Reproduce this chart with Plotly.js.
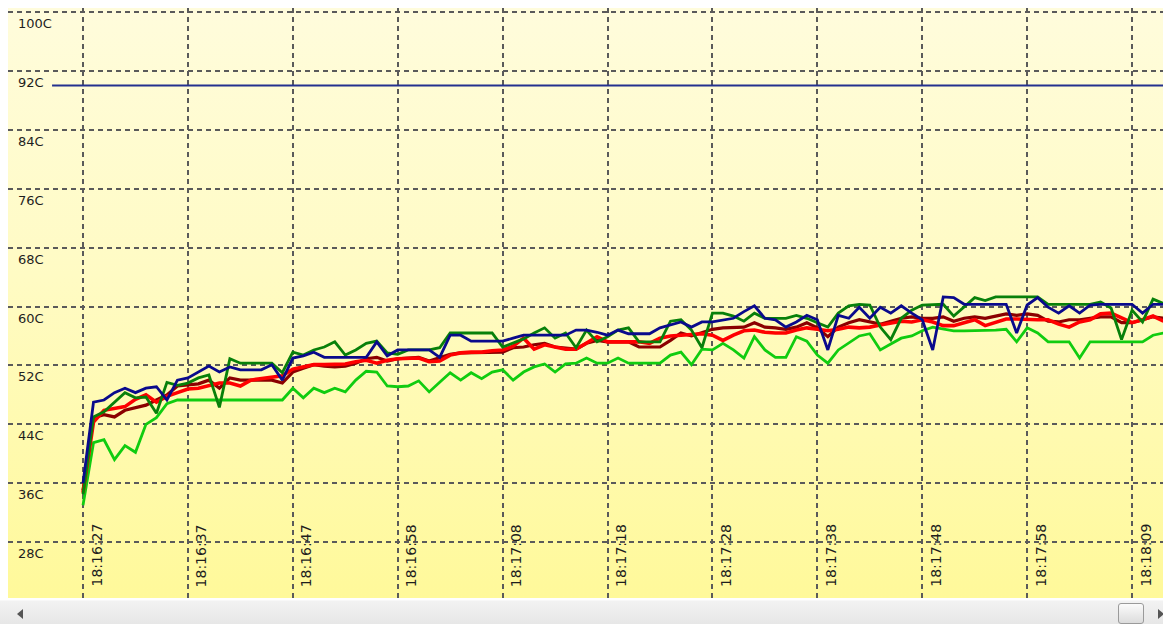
<!DOCTYPE html>
<html>
<head>
<meta charset="utf-8">
<script src="https://cdn.plot.ly/plotly-3.0.1.min.js"></script>
<style>
  html, body { margin: 0; padding: 0; background: #ffffff; width: 1163px; height: 624px; overflow: hidden; }
  #bg { position: absolute; left: 8px; top: 8px; width: 1155px; height: 590px;
        background: linear-gradient(to bottom, #fffcdc 0%, #fffbc4 45%, #fff99a 100%); }
  #chart { position: absolute; left: 0; top: 0; width: 1163px; height: 624px; }
  #scroll { position: absolute; left: 0; top: 600px; width: 1163px; height: 24px;
            background: linear-gradient(to bottom, #f2f2f2, #e6e6e6); border-top: 1px solid #f8f8f8; }
  #larrow { position: absolute; left: 17px; top: 8px; width: 0; height: 0;
            border-top: 5px solid transparent; border-bottom: 5px solid transparent; border-right: 6px solid #555; }
  #rarrow { position: absolute; left: 1158px; top: 8px; width: 0; height: 0;
            border-top: 5px solid transparent; border-bottom: 5px solid transparent; border-left: 6px solid #555; }
  #thumb { position: absolute; left: 1118px; top: 2px; width: 24px; height: 19px; border: 1px solid #9a9a9a;
           border-radius: 3px; background: linear-gradient(to bottom, #fbfbfb, #dcdcdc); }
</style>
</head>
<body>
<div id="bg"></div>
<div id="chart"></div>
<div id="scroll"><div id="larrow"></div><div id="thumb"></div><div id="rarrow"></div></div>
<script>
// ---- data ----
const tickIdx  = [0, 10, 20, 30, 40, 50, 60, 70, 80, 90, 100];
const tickText = ['18:16:27','18:16:37','18:16:47','18:16:58','18:17:08','18:17:18','18:17:28','18:17:38','18:17:48','18:17:58','18:18:09'];
const yTicks   = [100, 92, 84, 76, 68, 60, 52, 44, 36, 28];
const yText    = ['100C','92C','84C','76C','68C','60C','52C','44C','36C','28C'];
const threshold = 90;

const navySeries = [36.0,47.0,47.3,48.3,48.9,48.3,48.9,49.1,47.3,50.0,
  50.3,51.1,51.9,51.1,51.8,51.4,51.4,51.4,52.1,50.0,
  53.0,53.3,53.8,53.1,53.1,53.1,53.1,53.1,55.2,53.3,
  54.1,54.1,54.1,54.1,53.1,56.1,56.1,55.3,55.3,55.3,
  55.3,55.7,56.1,56.1,56.1,56.1,56.1,56.8,56.8,56.5,
  56.1,56.8,56.3,56.3,56.3,57.1,57.5,57.9,57.2,57.9,
  57.9,58.2,58.4,59.3,60.1,58.4,58.2,57.2,57.9,58.8,
  58.2,54.1,58.8,58.4,59.9,58.4,59.9,59.1,60.1,59.1,
  58.2,54.1,61.3,61.2,60.3,60.3,60.3,60.3,60.3,56.4,
  60.2,61.2,59.9,59.1,60.1,59.1,60.2,60.3,60.3,60.3,
  60.3,59.1,60.3,60.3];
const darkGreenSeries = [34.5,45.0,45.7,47.0,48.3,47.6,47.7,45.5,49.7,49.3,
  49.6,50.3,50.7,46.3,52.9,52.3,52.3,52.3,52.3,51.0,
  53.8,53.4,54.1,54.5,55.2,53.4,54.1,55.0,55.3,53.7,
  53.5,54.1,54.1,54.1,54.4,56.4,56.4,56.4,56.4,56.4,
  54.5,55.0,55.6,56.4,57.1,55.7,56.4,54.4,56.8,55.2,
  55.9,56.8,57.1,55.2,55.2,55.2,58.0,58.2,56.8,54.4,
  59.1,59.1,58.7,58.0,59.1,58.4,58.4,58.4,58.8,58.4,
  57.8,57.2,59.1,60.1,60.3,60.2,57.2,55.5,58.4,59.5,
  60.2,60.3,60.3,58.7,59.9,61.2,60.8,61.3,61.3,61.3,
  61.3,61.3,60.3,60.3,60.3,60.3,60.3,60.6,59.8,55.5,
  59.5,57.9,61.0,60.4];
const redSeries = [34.7,44.3,45.9,46.2,46.4,47.4,48.0,47.0,47.8,48.3,
  48.8,48.9,49.3,49.6,49.6,49.2,50.0,50.2,50.3,50.6,
  51.5,51.8,52.1,52.1,52.1,52.2,52.5,52.7,52.3,52.7,
  52.9,53.0,53.0,52.5,52.6,53.4,53.7,53.8,53.8,54.0,
  54.1,54.6,55.7,54.2,54.8,54.5,54.2,54.2,55.0,55.9,
  55.2,55.2,55.3,55.2,55.0,55.7,56.0,56.1,56.3,56.3,
  56.1,55.4,56.1,56.7,56.8,56.5,56.4,56.4,56.8,57.1,
  56.9,56.7,56.9,57.2,57.1,57.2,57.5,57.8,58.0,57.9,
  58.2,57.9,57.4,57.4,57.8,58.2,57.4,57.9,58.3,58.3,
  58.2,58.2,58.2,57.6,57.2,57.9,58.2,59.0,59.1,58.4,
  57.8,58.2,58.7,58.0];
const maroonSeries = [35.0,44.9,45.3,45.0,45.9,46.2,46.6,47.3,48.0,49.2,
  49.3,49.5,50.0,48.9,50.3,50.0,50.0,50.0,50.0,49.6,
  51.1,51.6,52.1,51.9,51.8,51.9,52.3,52.9,53.1,52.6,
  52.9,53.0,53.1,52.6,53.0,53.5,53.7,53.7,53.7,53.7,
  53.8,54.4,54.5,54.8,55.0,54.5,54.4,54.2,55.0,55.4,
  55.2,55.2,55.2,54.5,54.5,54.5,55.4,56.4,56.0,56.5,
  56.9,57.1,57.1,57.2,57.8,57.2,57.1,56.9,57.2,57.8,
  57.1,55.9,57.2,57.8,58.2,57.9,57.6,58.0,58.4,58.6,
  58.4,58.4,58.6,58.0,58.4,58.6,58.4,58.7,59.0,58.8,
  59.0,58.8,58.0,57.9,58.2,58.2,58.4,58.6,58.6,57.8,
  57.8,58.2,58.6,58.4];
const lightGreenSeries = [33.0,41.5,41.9,39.2,41.1,40.2,44.0,44.9,46.8,47.3,
  47.3,47.3,47.3,47.3,47.3,47.3,47.3,47.3,47.3,47.3,
  48.9,47.6,48.9,48.3,48.9,48.4,50.0,51.2,51.1,49.2,
  49.1,49.2,49.9,48.4,49.7,51.0,50.0,51.0,50.2,51.1,
  51.4,50.0,51.1,51.8,52.2,51.1,52.2,52.3,53.0,52.3,
  52.3,53.0,52.3,52.3,52.3,52.3,53.4,53.8,52.1,54.2,
  54.1,55.0,54.1,53.0,55.9,54.1,53.1,53.1,55.9,55.3,
  53.4,52.3,54.1,55.0,56.0,56.3,54.1,54.9,55.7,56.0,
  56.7,57.2,56.9,56.7,56.7,56.7,56.8,56.8,56.9,55.2,
  57.1,56.4,55.2,55.2,55.2,53.0,55.2,55.2,55.2,55.2,
  55.2,55.2,56.1,56.4];

const sampleIdx = navySeries.map((_, i) => i);

// ---- traces ----
function line(y, color, width) {
  return { type: 'scatter', mode: 'lines', x: sampleIdx, y: y,
           line: { color: color, width: width, shape: 'linear' }, hoverinfo: 'skip', showlegend: false };
}
const traces = [
  { type: 'scatter', mode: 'lines', x: [-2.95, 104], y: [threshold, threshold],
    line: { color: '#24318f', width: 2 }, hoverinfo: 'skip', showlegend: false },
  line(lightGreenSeries, '#10cc10', 2.8),
  line(maroonSeries, '#8b0000', 3.2),
  line(redSeries, '#ff0000', 3.6),
  line(darkGreenSeries, '#08800a', 2.8),
  line(navySeries, '#0a0a8c', 2.8)
];

const annotations = [];
yTicks.forEach((v, i) => annotations.push({
  xref: 'paper', x: 0, yref: 'y', y: v, text: yText[i], showarrow: false,
  xanchor: 'left', yanchor: 'top', xshift: 8, yshift: -2,
  font: { family: 'DejaVu Sans, Arial, sans-serif', size: 13, color: '#1e1e1e' }
}));
tickIdx.forEach((v, i) => annotations.push({
  xref: 'x', x: v, yref: 'paper', y: 0, text: tickText[i], showarrow: false, textangle: -90,
  xanchor: 'left', yanchor: 'bottom', xshift: 3, yshift: 9,
  font: { family: 'DejaVu Sans, Arial, sans-serif', size: 14, color: '#1e1e1e' }
}));

const layout = {
  width: 1163, height: 624,
  margin: { l: 8, r: 0, t: 8, b: 26, pad: 0 },
  paper_bgcolor: 'rgba(0,0,0,0)', plot_bgcolor: 'rgba(0,0,0,0)',
  showlegend: false,
  xaxis: { range: [-7.15, 102.95], tickmode: 'array', tickvals: tickIdx, ticktext: tickText,
           showticklabels: false, ticks: '', showgrid: true, gridcolor: '#5a5a5a', gridwidth: 2,
           griddash: '5px,4px', zeroline: false, showline: false, fixedrange: true },
  yaxis: { range: [20.41, 100.54], tickmode: 'array', tickvals: yTicks, ticktext: yText,
           showticklabels: false, ticks: '', showgrid: true, gridcolor: '#5a5a5a', gridwidth: 2,
           griddash: '5px,4px', zeroline: false, showline: false, fixedrange: true },
  annotations: annotations
};

Plotly.newPlot('chart', traces, layout, { displayModeBar: false, staticPlot: true });
</script>
</body>
</html>
